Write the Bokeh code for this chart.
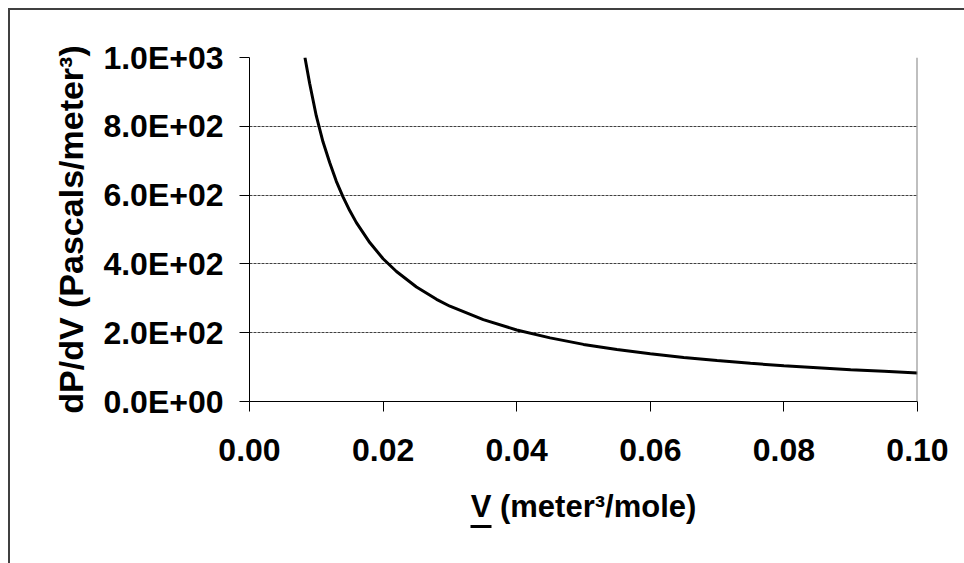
from bokeh.plotting import figure
from bokeh.models import Range1d, FixedTicker, Span, LinearAxis
from bokeh.embed import file_html
from bokeh.resources import INLINE

# Data
volume = [0.0083, 0.009, 0.010, 0.011, 0.012, 0.013, 0.014, 0.015, 0.016, 0.018,
          0.020, 0.022, 0.025, 0.028, 0.030, 0.035, 0.040, 0.045, 0.050, 0.055,
          0.060, 0.065, 0.070, 0.075, 0.080, 0.085, 0.090, 0.095, 0.100]
dpdv = [1000, 925, 830, 755, 695, 640, 595, 555, 520, 462,
        415, 378, 333, 297, 277, 238, 208, 185, 166, 151,
        139, 128, 119, 111, 104, 98, 92, 88, 83]

x_ticks = [0.0, 0.02, 0.04, 0.06, 0.08, 0.10]
x_tick_labels = ["0.00", "0.02", "0.04", "0.06", "0.08", "0.10"]
y_ticks = [0, 200, 400, 600, 800, 1000]
y_tick_labels = ["0.0E+00", "2.0E+02", "4.0E+02", "6.0E+02", "8.0E+02", "1.0E+03"]

x_title = "V (meter³/mole)"
y_title = "dP/dV (Pascals/meter³)"
underline_span = (0.0331, 0.0362)   # extent of the underlined "V" in the x title

FONT = "Liberation Sans"

p = figure(width=964, height=563, output_backend="svg", toolbar_location=None,
           x_range=Range1d(0, 0.1), y_range=Range1d(0, 1000),
           min_border_left=249, min_border_right=47, min_border_top=57,
           min_border_bottom=162)
p.border_fill_color = None
p.styles = {"box-shadow": "inset 8px 8px 0 0 white, inset 10px 10px 0 0 #404040"}
p.outline_line_color = None
p.background_fill_color = "white"

p.xgrid.visible = False
p.ygrid.ticker = FixedTicker(ticks=y_ticks)
p.ygrid.grid_line_color = "#404040"
p.ygrid.grid_line_dash = "3 1"
p.ygrid.grid_line_width = 1

p.add_layout(Span(location=0.1, dimension="height", line_color="#808080", line_width=2))

for ax, ticks, labels in ((p.xaxis[0], x_ticks, x_tick_labels), (p.yaxis[0], y_ticks, y_tick_labels)):
    ax.ticker = FixedTicker(ticks=ticks)
    ax.major_label_overrides = {t: l for t, l in zip(ticks, labels)}
    ax.major_label_text_font = FONT
    ax.major_label_text_font_style = "bold"
    ax.major_label_text_font_size = "32px"
    ax.major_label_text_color = "black"
    ax.major_tick_in = 0
    ax.major_tick_out = 10
    ax.minor_tick_line_color = None
    ax.axis_line_color = "black"
    ax.major_tick_line_color = "black"
    ax.axis_label_text_font = FONT
    ax.axis_label_text_font_style = "bold"
    ax.axis_label_text_color = "black"
p.xaxis[0].axis_label_text_font_size = "31px"
p.yaxis[0].axis_label_text_font_size = "34px"
p.yaxis[0].major_label_standoff = 16
p.xaxis[0].major_label_standoff = 27
p.xaxis[0].axis_label = x_title
p.yaxis[0].axis_label = y_title
p.xaxis[0].axis_label_standoff = 25
p.yaxis[0].axis_label_standoff = 10

# underline of the "V" drawn as a bounded axis line just below the x title
uline = LinearAxis(bounds=underline_span, ticker=FixedTicker(ticks=[]),
                   axis_line_width=3, axis_line_color="black",
                   major_tick_line_color=None, minor_tick_line_color=None,
                   major_label_text_color=None)
p.add_layout(uline, "below")

p.line(volume, dpdv, line_color="black", line_width=3)

open("out.html", "w").write(file_html(p, INLINE))
